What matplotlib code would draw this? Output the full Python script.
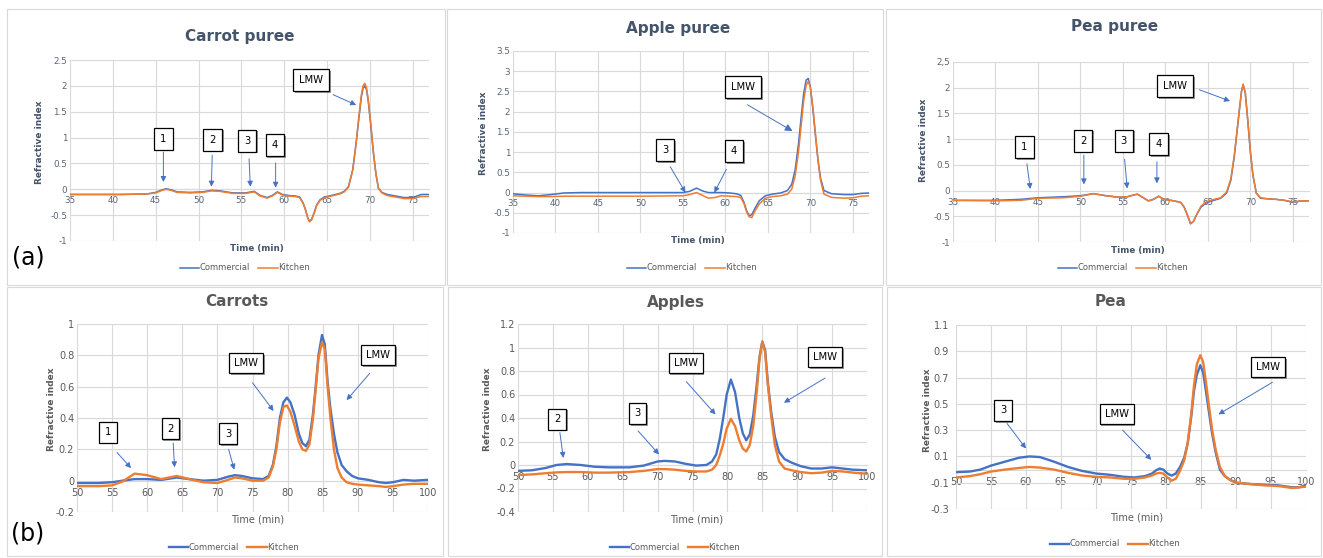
import matplotlib.pyplot as plt
import matplotlib.patheffects as pe
from matplotlib.lines import Line2D
from matplotlib.patches import Rectangle

W, H = 1323, 558
BLUE = '#4472c4'
ORANGE = '#ed7d31'
GRID = '#d9d9d9'

# ---- (a) purees, time in min, refractive index ----
carrot_puree_t = [35, 38, 41, 44, 45, 45.6, 46.2, 46.8, 47.5, 49, 50.5, 51.5, 52.5, 54, 55.5,
                  56.5, 57.2, 58, 58.6, 59.2, 59.8, 60.5, 61.3, 61.8, 62.2, 62.5, 62.75, 62.95,
                  63.2, 63.5, 63.8, 64.2, 64.7, 65.5, 66.5, 67, 67.5, 68, 68.4, 68.7, 69, 69.2,
                  69.4, 69.6, 69.8, 70.1, 70.4, 70.7, 71, 71.4, 72, 73, 74, 75, 76, 77]
carrot_puree_com = [-0.10, -0.10, -0.10, -0.09, -0.06, -0.02, 0.01, -0.01, -0.05, -0.06, -0.05,
                    -0.02, -0.03, -0.07, -0.07, -0.04, -0.12, -0.16, -0.12, -0.05, -0.10, -0.12,
                    -0.13, -0.15, -0.26, -0.40, -0.55, -0.62, -0.58, -0.45, -0.30, -0.20, -0.15,
                    -0.12, -0.08, -0.04, 0.05, 0.38, 0.90, 1.35, 1.78, 1.95, 2.00, 1.93, 1.72,
                    1.25, 0.72, 0.30, 0.02, -0.06, -0.10, -0.13, -0.16, -0.16, -0.10, -0.10]
carrot_puree_kit = [-0.10, -0.10, -0.10, -0.09, -0.07, -0.03, 0.0, -0.02, -0.06, -0.07, -0.06,
                    -0.03, -0.04, -0.08, -0.08, -0.05, -0.13, -0.17, -0.13, -0.06, -0.11, -0.13,
                    -0.14, -0.16, -0.27, -0.41, -0.56, -0.63, -0.59, -0.46, -0.31, -0.21, -0.16,
                    -0.13, -0.09, -0.05, 0.04, 0.37, 0.90, 1.38, 1.82, 2.00, 2.05, 1.97, 1.75,
                    1.27, 0.74, 0.31, 0.02, -0.07, -0.12, -0.15, -0.18, -0.18, -0.14, -0.14]

apple_puree_t = [35, 36.5, 38, 39.5, 41, 43, 50, 55, 55.8, 56.6, 57.3, 58, 58.8, 59.5, 60.5,
                 61.3, 61.8, 62.2, 62.5, 62.8, 63.1, 63.5, 64, 64.7, 65.5, 66.5, 67.3, 67.8,
                 68.2, 68.6, 68.9, 69.2, 69.5, 69.75, 70.0, 70.3, 70.6, 70.9, 71.2, 71.6, 72.5,
                 74, 75, 76, 77]
apple_puree_com = [-0.03, -0.06, -0.08, -0.05, -0.01, 0.0, 0.0, 0.0, 0.03, 0.11, 0.04, 0.0, 0.0,
                   0.0, -0.01, -0.03, -0.07, -0.25, -0.45, -0.57, -0.55, -0.38, -0.2, -0.08,
                   -0.04, -0.01, 0.05, 0.2, 0.55, 1.2, 1.83, 2.43, 2.78, 2.82, 2.6, 2.05, 1.4,
                   0.8, 0.35, 0.05, -0.03, -0.05, -0.05, -0.02, -0.01]
apple_puree_kit = [-0.08, -0.09, -0.1, -0.1, -0.09, -0.09, -0.09, -0.08, -0.05, 0.0, -0.07,
                   -0.14, -0.12, -0.08, -0.09, -0.1, -0.12, -0.28, -0.48, -0.6, -0.62, -0.45,
                   -0.28, -0.14, -0.1, -0.08, -0.04, 0.08, 0.4, 1.0, 1.62, 2.25, 2.65, 2.75, 2.6,
                   2.1, 1.45, 0.8, 0.3, -0.04, -0.12, -0.14, -0.13, -0.09, -0.08]

pea_puree_t = [35, 40, 43, 45, 48, 50, 51.5, 53, 54.5, 55.5, 56.2, 56.7, 57.3, 58, 58.6, 59.2,
               59.8, 61, 61.8, 62.2, 62.6, 62.95, 63.3, 63.7, 64.2, 64.8, 65.5, 66.5, 67.2, 67.7,
               68.1, 68.4, 68.7, 68.95, 69.15, 69.4, 69.7, 70.0, 70.3, 70.7, 71.2, 72, 73, 74,
               75, 76, 77]
pea_puree_com = [-0.19, -0.19, -0.17, -0.14, -0.12, -0.1, -0.06, -0.1, -0.13, -0.12, -0.09,
                 -0.07, -0.13, -0.2, -0.17, -0.11, -0.17, -0.2, -0.23, -0.32, -0.48, -0.64, -0.6,
                 -0.46, -0.32, -0.24, -0.2, -0.15, -0.05, 0.2, 0.65, 1.1, 1.55, 1.92, 2.06, 1.9,
                 1.35, 0.75, 0.3, -0.05, -0.15, -0.16, -0.17, -0.19, -0.23, -0.2, -0.2]
pea_puree_kit = [-0.19, -0.2, -0.19, -0.15, -0.14, -0.11, -0.06, -0.1, -0.13, -0.12, -0.09,
                 -0.07, -0.13, -0.2, -0.17, -0.11, -0.17, -0.2, -0.23, -0.32, -0.48, -0.65, -0.6,
                 -0.46, -0.3, -0.22, -0.18, -0.14, -0.03, 0.23, 0.68, 1.12, 1.57, 1.93, 2.07, 1.9,
                 1.36, 0.76, 0.3, -0.05, -0.14, -0.16, -0.17, -0.19, -0.22, -0.2, -0.2]

# ---- (b) whole vegetables / fruit ----
carrots_t = [50, 53, 55, 56.5, 58.2, 60, 62, 64.2, 66, 68, 70, 71.5, 72.5, 73.5, 75, 76.5, 77.3,
             77.9, 78.4, 78.9, 79.4, 79.9, 80.4, 81, 81.6, 82.1, 82.6, 83.1, 83.6, 84.0, 84.4,
             84.9, 85.3, 85.7, 86.1, 86.6, 87.1, 87.7, 88.4, 89.2, 90, 91.5, 93, 94, 95, 96.5,
             98, 100]
carrots_com = [-0.015, -0.015, -0.01, 0.0, 0.01, 0.01, 0.005, 0.02, 0.01, 0.0, 0.005, 0.025,
               0.035, 0.03, 0.015, 0.01, 0.03, 0.1, 0.22, 0.4, 0.5, 0.53, 0.5, 0.42, 0.3, 0.24,
               0.22, 0.26, 0.42, 0.6, 0.8, 0.93, 0.87, 0.63, 0.46, 0.3, 0.18, 0.1, 0.06, 0.03,
               0.015, 0.005, -0.01, -0.015, -0.01, 0.005, 0.0, 0.005]
carrots_kit = [-0.035, -0.035, -0.03, -0.005, 0.045, 0.035, 0.01, 0.03, 0.01, -0.01, -0.015,
               0.005, 0.02, 0.015, 0.0, 0.0, 0.02, 0.09, 0.2, 0.37, 0.47, 0.48, 0.44, 0.35, 0.25,
               0.2, 0.19, 0.23, 0.39, 0.58, 0.78, 0.885, 0.84, 0.6, 0.4, 0.2, 0.08, 0.02, -0.01,
               -0.02, -0.025, -0.03, -0.035, -0.04, -0.035, -0.025, -0.02, -0.02]

apples_t = [50, 52, 54, 55.5, 57, 59, 61, 63, 66, 68, 70, 71, 72.5, 74, 75.5, 77, 77.8, 78.4,
            78.9, 79.4, 79.9, 80.5, 81.1, 81.7, 82.2, 82.7, 83.2, 83.7, 84.2, 84.6, 85.0, 85.4,
            85.8, 86.3, 86.8, 87.4, 88.2, 89.2, 90.5, 92, 93.5, 95, 96.5, 98, 100]
apples_com = [-0.05, -0.045, -0.025, 0.0, 0.008, 0.0, -0.015, -0.02, -0.02, -0.005, 0.03, 0.035,
              0.03, 0.01, -0.005, 0.0, 0.03, 0.09, 0.22, 0.4, 0.6, 0.727, 0.62, 0.4, 0.27, 0.21,
              0.26, 0.42, 0.68, 0.92, 1.05, 0.98, 0.7, 0.44, 0.24, 0.11, 0.05, 0.02, -0.01,
              -0.03, -0.03, -0.02, -0.03, -0.04, -0.045]
apples_kit = [-0.085, -0.08, -0.07, -0.063, -0.06, -0.06, -0.065, -0.065, -0.06, -0.05, -0.035,
              -0.035, -0.04, -0.05, -0.055, -0.055, -0.04, 0.0, 0.08, 0.18, 0.31, 0.393, 0.33,
              0.21, 0.14, 0.115, 0.17, 0.33, 0.62, 0.9, 1.05, 0.96, 0.68, 0.4, 0.17, 0.03,
              -0.03, -0.045, -0.06, -0.07, -0.065, -0.05, -0.055, -0.065, -0.075]

pea_t = [50, 52, 53.5, 55, 57, 59, 60.5, 62, 64, 66, 68, 70, 72, 74, 75.5, 77, 78, 78.6, 79.1,
         79.6, 80.2, 80.8, 81.4, 82, 82.6, 83.1, 83.6, 84.0, 84.4, 84.9, 85.3, 85.7, 86.1, 86.6,
         87.1, 87.7, 88.4, 89.2, 90, 92, 94, 96, 98, 99, 100]
pea_com = [-0.02, -0.015, 0.0, 0.03, 0.06, 0.09, 0.1, 0.095, 0.06, 0.02, -0.01, -0.03, -0.04,
           -0.055, -0.06, -0.05, -0.03, -0.005, 0.008, 0.0, -0.03, -0.046, -0.03, 0.02, 0.09,
           0.2, 0.4, 0.6, 0.72, 0.794, 0.74, 0.6, 0.45, 0.27, 0.13, 0.0, -0.05, -0.08, -0.1,
           -0.11, -0.115, -0.12, -0.135, -0.135, -0.12]
pea_kit = [-0.06, -0.05, -0.035, -0.015, 0.0, 0.012, 0.02, 0.015, 0.0, -0.025, -0.045, -0.055,
           -0.06, -0.07, -0.07, -0.06, -0.045, -0.03, -0.025, -0.03, -0.06, -0.084, -0.07, -0.01,
           0.07, 0.2, 0.42, 0.64, 0.8, 0.87, 0.82, 0.67, 0.5, 0.3, 0.15, 0.02, -0.05, -0.08,
           -0.1, -0.11, -0.12, -0.125, -0.14, -0.135, -0.13]

top_xticks = [35, 40, 45, 50, 55, 60, 65, 70, 75]
bot_xticks = [50, 55, 60, 65, 70, 75, 80, 85, 90, 95, 100]

fig = plt.figure(figsize=(W / 100, H / 100), dpi=100)


def fx(px):
    return px / W


def fy(py):
    return 1 - py / H


def panel_frame(x0, y0, x1, y1):
    fig.patches.append(Rectangle((fx(x0), fy(y1)), (x1 - x0) / W, (y1 - y0) / H,
                                 transform=fig.transFigure, fill=False, ec='#d9d9d9', lw=0.8))


def make_ax(l, t, r, b, tt, com, kit, xlim, xticks, yticks, ylabels, lw, tsize, tcolor, ypad=2):
    ax = fig.add_axes([fx(l), fy(b), (r - l) / W, (b - t) / H])
    ax.plot(tt, com, color=BLUE, lw=lw, zorder=3)
    ax.plot(tt, kit, color=ORANGE, lw=lw, zorder=3)
    ax.set_xlim(xlim)
    ax.set_ylim(yticks[0], yticks[-1])
    ax.set_xticks(xticks)
    ax.set_yticks(yticks)
    ax.set_yticklabels(ylabels)
    ax.set_axisbelow(True)
    ax.grid(True, color=GRID, lw=0.8)
    for s in ['top', 'right', 'left']:
        ax.spines[s].set_visible(False)
    ax.spines['bottom'].set_position(('data', 0))
    ax.spines['bottom'].set_color(GRID)
    ax.spines['bottom'].set_linewidth(0.8)
    ax.tick_params(axis='x', length=0, labelsize=tsize, colors=tcolor, pad=5)
    ax.tick_params(axis='y', length=0, labelsize=tsize, colors=tcolor, pad=ypad)
    ax.patch.set_alpha(0)
    return ax


def box(ax, text, xy, tail, tip, pad, ms=8):
    ax.text(xy[0], xy[1], text, fontsize=7.2, ha='center', va='center', color='black', zorder=5,
            bbox=dict(boxstyle='square,pad=%s' % pad, fc='white', ec='black', lw=0.9,
                      path_effects=[pe.withSimplePatchShadow(offset=(1.3, -1.3),
                                                             shadow_rgbFace='#808080', alpha=0.8)]))
    ax.annotate('', xy=tip, xytext=tail, zorder=5,
                arrowprops=dict(arrowstyle='-|>', color=BLUE, lw=0.7, mutation_scale=ms,
                                shrinkA=0, shrinkB=0))


def texts(title, tcx, tcy, xl_cx, xl_cy, yl_cx, yl_cy, top):
    if top:
        fig.text(fx(tcx), fy(tcy), title, ha='center', va='center', fontsize=11,
                 fontweight='bold', color='#44546a')
        fig.text(fx(xl_cx), fy(xl_cy), 'Time (min)', ha='center', va='center', fontsize=6.3,
                 fontweight='bold', color='#44546a')
        fig.text(fx(yl_cx), fy(yl_cy), 'Refractive index', ha='center', va='center',
                 fontsize=6.5, fontweight='bold', color='#44546a', rotation=90)
    else:
        fig.text(fx(tcx), fy(tcy), title, ha='center', va='center', fontsize=11,
                 fontweight='bold', color='#595959')
        fig.text(fx(xl_cx), fy(xl_cy), 'Time (min)', ha='center', va='center', fontsize=7,
                 color='#595959')
        fig.text(fx(yl_cx), fy(yl_cy), 'Refractive index', ha='center', va='center',
                 fontsize=6.5, fontweight='bold', color='#595959', rotation=90)


def legend(cx, cy, lw):
    h = [Line2D([], [], color=BLUE, lw=lw), Line2D([], [], color=ORANGE, lw=lw)]
    fig.legend(h, ['Commercial', 'Kitchen'], loc='center', bbox_to_anchor=(fx(cx), fy(cy)),
               ncol=2, frameon=False, fontsize=6, handlelength=2.3, handletextpad=0.1,
               columnspacing=1.0, labelcolor='#595959', borderpad=0)


for (x0, y0, x1, y1) in [(7, 9, 445, 285), (447, 9, 883, 285), (886, 9, 1321, 285),
                         (7, 287, 443, 556), (448, 287, 882, 556), (887, 287, 1321, 556)]:
    panel_frame(x0, y0, x1, y1)

top_lw = 1.1
bot_lw = 1.7
tcol_top = '#5a6475'
tcol_bot = '#595959'

# Carrot puree
ax = make_ax(70, 60, 429, 241, carrot_puree_t, carrot_puree_com, carrot_puree_kit, (35, 76.9),
             top_xticks, [-1, -0.5, 0, 0.5, 1, 1.5, 2, 2.5],
             ['-1', '-0.5', '0', '0.5', '1', '1.5', '2', '2.5'], top_lw, 6.3, tcol_top)
box(ax, '1', (45.9, 0.98), (45.9, 0.72), (45.9, 0.14), 0.6)
box(ax, '2', (51.65, 0.96), (51.6, 0.66), (51.5, 0.05), 0.6)
box(ax, '3', (55.7, 0.94), (55.9, 0.59), (56.05, 0.05), 0.6)
box(ax, '4', (58.9, 0.85), (59.0, 0.51), (59.0, 0.03), 0.6)
box(ax, 'LMW', (63.1, 2.11), (65.7, 1.83), (68.4, 1.63), 0.6)
texts('Carrot puree', 240, 36, 257, 248, 40, 142, True)
legend(245, 268, top_lw)

# Apple puree
ax = make_ax(513, 51, 869, 233, apple_puree_t, apple_puree_com, apple_puree_kit, (35, 76.9),
             top_xticks, [-1, -0.5, 0, 0.5, 1, 1.5, 2, 2.5, 3, 3.5],
             ['-1', '-0.5', '0', '0.5', '1', '1.5', '2', '2.5', '3', '3.5'], top_lw, 6.3, tcol_top)
box(ax, '3', (52.9, 1.05), (53.5, 0.64), (55.3, 0.0), 0.6)
box(ax, '4', (61.0, 1.02), (60.1, 0.57), (58.7, 0.0), 0.6)
box(ax, 'LMW', (62.06, 2.61), (62.6, 2.17), (67.9, 1.52), 0.6, ms=11)
texts('Apple puree', 678, 28, 698, 241, 484, 133, True)
legend(692, 268, top_lw)

# Pea puree
ax = make_ax(953, 62, 1309, 242, pea_puree_t, pea_puree_com, pea_puree_kit, (35, 76.9),
             top_xticks, [-1, -0.5, 0, 0.5, 1, 1.5, 2, 2.5],
             ['-1', '-0.5', '0', '0.5', '1', '1.5', '2', '2,5'], top_lw, 6.3, tcol_top)
box(ax, '1', (43.4, 0.85), (43.7, 0.52), (44.1, 0.03), 0.6)
box(ax, '2', (50.3, 0.97), (50.4, 0.69), (50.4, 0.12), 0.6)
box(ax, '3', (55.1, 0.97), (55.2, 0.61), (55.5, 0.04), 0.6)
box(ax, '4', (59.2, 0.90), (59.0, 0.56), (59.0, 0.14), 0.6)
box(ax, 'LMW', (61.1, 2.03), (64.0, 1.96), (67.6, 1.74), 0.6)
texts('Pea puree', 1115, 27, 1138, 250, 924, 140, True)
legend(1123, 268, top_lw)

# Carrots
ax = make_ax(77, 324, 428, 512, carrots_t, carrots_com, carrots_kit, (50, 100), bot_xticks,
             [-0.2, 0, 0.2, 0.4, 0.6, 0.8, 1],
             ['-0.2', '0', '0.2', '0.4', '0.6', '0.8', '1'], bot_lw, 7, tcol_bot)
box(ax, '1', (54.4, 0.31), (55.7, 0.18), (57.7, 0.08), 0.55)
box(ax, '2', (63.3, 0.33), (63.7, 0.24), (63.9, 0.085), 0.55)
box(ax, '3', (71.5, 0.30), (71.6, 0.2), (72.4, 0.07), 0.55)
box(ax, 'LMW', (74.1, 0.75), (75.0, 0.625), (78.0, 0.445), 0.5)
box(ax, 'LMW', (92.9, 0.80), (91.7, 0.685), (88.4, 0.514), 0.5)
texts('Carrots', 237, 302, 258, 520, 51, 409, False)
legend(234, 547, bot_lw)

# Apples
ax = make_ax(518, 324, 867, 512, apples_t, apples_com, apples_kit, (50, 100), bot_xticks,
             [-0.4, -0.2, 0, 0.2, 0.4, 0.6, 0.8, 1, 1.2],
             ['-0.4', '-0.2', '0', '0.2', '0.4', '0.6', '0.8', '1', '1.2'], bot_lw, 7, tcol_bot)
box(ax, '2', (55.6, 0.39), (56.0, 0.276), (56.5, 0.06), 0.55)
box(ax, '3', (67.1, 0.44), (67.2, 0.29), (70.2, 0.09), 0.55)
box(ax, 'LMW', (74.0, 0.87), (74.1, 0.71), (78.3, 0.43), 0.5)
box(ax, 'LMW', (94.0, 0.92), (94.0, 0.74), (88.1, 0.53), 0.5)
texts('Apples', 676, 302, 697, 520, 487, 409, False)
legend(675, 547, bot_lw)

# Pea
ax = make_ax(956, 325, 1306, 509, pea_t, pea_com, pea_kit, (50, 100), bot_xticks,
             [-0.3, -0.1, 0.1, 0.3, 0.5, 0.7, 0.9, 1.1],
             ['-0.3', '-0.1', '0.1', '0.3', '0.5', '0.7', '0.9', '1.1'], bot_lw, 7, tcol_bot,
             ypad=5)
box(ax, '3', (56.7, 0.45), (57.3, 0.35), (60.0, 0.16), 0.55)
box(ax, 'LMW', (72.95, 0.425), (73.8, 0.30), (77.9, 0.074), 0.5)
box(ax, 'LMW', (94.6, 0.78), (95.2, 0.664), (87.5, 0.42), 0.5)
texts('Pea', 1111, 302, 1137, 518, 927, 410, False)
legend(1115, 544, bot_lw)

fig.text(fx(28), fy(258), '(a)', ha='center', va='center', fontsize=17, color='black')
fig.text(fx(28), fy(533), '(b)', ha='center', va='center', fontsize=17, color='black')

fig.savefig('out.png', dpi=100, facecolor='white')
